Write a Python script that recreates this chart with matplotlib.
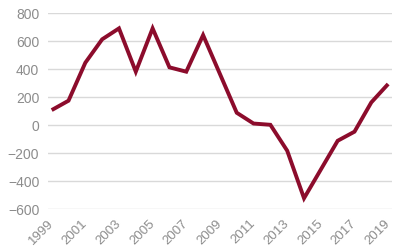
import numpy as np
import matplotlib
matplotlib.use("Agg")
import matplotlib.pyplot as plt

# ================= DATA =================

years = list(range(1999, 2020))
values = [108, 175, 446, 613, 691, 382, 691, 413, 382, 643,
          366, 89, 12, 3, -182, -521, -316, -111, -46, 163, 294]

y_ticks = [-600, -400, -200, 0, 200, 400, 600, 800]
x_ticks = list(range(1999, 2020, 2))

# ================= STYLE =================

plt.rcParams['font.family'] = ['Liberation Sans', 'DejaVu Sans']
line_color = "#8C0C2C"
grid_color = "#D9D9D9"
text_color = "#8C8C8C"

# ================= PLOT =================

fig = plt.figure(figsize=(4.01, 2.52), dpi=100)
ax = fig.add_axes([0.1205, 0.1694, 0.8575, 0.7786])

ax.plot(years, values, color=line_color, linewidth=2.8,
        solid_joinstyle="miter", solid_capstyle="butt", zorder=3)

ax.set_xlim(1998.8, 2019.24)
ax.set_ylim(-600, 800)
ax.set_yticks(y_ticks)
ax.set_xticks(x_ticks)
ax.set_xticklabels([str(y) for y in x_ticks], rotation=45,
                   ha="right", rotation_mode="anchor", va="center")

ax.grid(True, axis="y", color=grid_color, linewidth=1.0)
ax.set_axisbelow(True)
for s in ax.spines.values():
    s.set_visible(False)
ax.tick_params(axis="both", length=0, colors=text_color)
ax.tick_params(axis="y", pad=6.5, labelsize=10)
ax.tick_params(axis="x", pad=9, labelsize=9.5)

fig.savefig("out.png", dpi=100)
